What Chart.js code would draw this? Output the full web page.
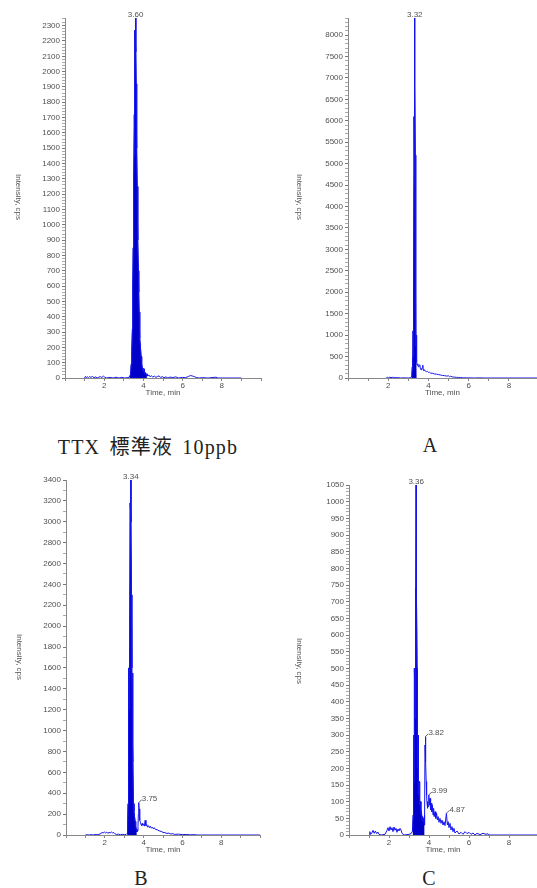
<!DOCTYPE html>
<html>
<head>
<meta charset="utf-8">
<script src="https://cdn.jsdelivr.net/npm/chart.js@4.4.1/dist/chart.umd.min.js"></script>
<style>
  body { margin: 0; background: #fff; width: 537px; height: 888px; position: relative; overflow: hidden; }
  canvas { position: absolute; }
  .ytitle { position: absolute; font: 8px 'Liberation Sans', Arial, sans-serif; color: #555; writing-mode: vertical-rl; white-space: nowrap; transform: translate(-50%, -50%); }
  .caption { position: absolute; font: 20px 'Liberation Serif', 'Noto Sans CJK JP', serif; color: #222; white-space: nowrap; transform: translate(-50%, -50%); }
  .wide { letter-spacing: 1.2px; word-spacing: 3px; }
</style>
</head>
<body>
<canvas id="ttxChart" width="268" height="400" style="left:0;top:0"></canvas>
<canvas id="aChart" width="267" height="400" style="left:270px;top:0"></canvas>
<canvas id="bChart" width="268" height="397" style="left:0;top:460px"></canvas>
<canvas id="cChart" width="267" height="397" style="left:270px;top:460px"></canvas>

<div class="ytitle" style="left:18px;top:197px">Intensity, cps</div>
<div class="ytitle" style="left:299px;top:197px">Intensity, cps</div>
<div class="ytitle" style="left:19px;top:657px">Intensity, cps</div>
<div class="ytitle" style="left:299px;top:661px">Intensity, cps</div>

<div class="caption wide" style="left:148px;top:445px">TTX 標準液 10ppb</div>
<div class="caption" style="left:430px;top:445px">A</div>
<div class="caption" style="left:141px;top:878px">B</div>
<div class="caption" style="left:429px;top:878px">C</div>

<script>
// TTX standard 10ppb
var ttxTime = [1.00, 1.04, 1.08, 1.14, 1.20, 1.26, 1.32, 1.40, 1.48, 1.56, 1.64, 1.72, 1.80, 1.88, 1.96, 2.02, 2.10, 2.30, 2.45, 2.60, 2.75, 2.90, 3.05, 3.20, 3.30,
  3.35, 3.38, 3.41, 3.44, 3.46, 3.48, 3.50, 3.52, 3.54, 3.55, 3.57, 3.59, 3.60, 3.61, 3.62, 3.63, 3.65, 3.66, 3.68, 3.70, 3.72, 3.74, 3.76, 3.78, 3.80, 3.82, 3.85, 3.88, 3.91, 3.94, 3.97,
  4.00, 4.03, 4.06, 4.10, 4.14, 4.18, 4.22, 4.28, 4.34, 4.40, 4.48, 4.56, 4.64, 4.72, 4.80, 4.88, 4.96, 5.05, 5.15, 5.25, 5.35, 5.50, 5.65, 5.80,
  6.00, 6.15, 6.30, 6.40, 6.50, 6.60, 6.70, 6.85, 7.00, 7.30, 7.70, 7.80, 9.00];
var ttxCps = [0, 10, 3, 8, 2, 9, 4, 10, 2, 7, 0, 5, 9, 3, 12, 6, 0, 4, 0, 5, 0, 4, 0, 3, 6,
  25, 90, 180, 320, 600, 850, 1100, 1300, 1720, 1450, 2270, 2200, 2350, 2300, 2130, 1900, 1920, 1500, 1250, 1100, 900, 700, 560, 430, 340, 260, 200, 140, 100, 65, 55,
  40, 60, 30, 35, 18, 28, 12, 20, 8, 15, 6, 12, 4, 10, 14, 3, 9, 2, 7, 0, 6, 3, 7, 0,
  4, 2, 10, 16, 13, 9, 3, 0, 2, 0, 5, 0, 0];

// sample A
var aTime = [1.90, 1.96, 2.02, 2.08, 2.14, 2.20, 2.28, 2.36, 2.44, 2.52, 2.60, 2.80, 3.00, 3.10, 3.15, 3.18,
  3.20, 3.21, 3.22, 3.23, 3.24, 3.25, 3.26, 3.27, 3.28, 3.29, 3.30, 3.31, 3.32, 3.33, 3.34, 3.35, 3.36, 3.37, 3.38, 3.39, 3.40, 3.42, 3.44, 3.47,
  3.50, 3.53, 3.57, 3.60, 3.63, 3.66, 3.69, 3.72, 3.74, 3.77, 3.80, 3.85, 3.90, 3.95, 4.00, 4.05, 4.10, 4.20, 4.30, 4.40, 4.50, 4.60, 4.70, 4.80, 4.90,
  5.00, 5.05, 5.10, 5.20, 5.30, 5.40, 5.50, 5.60, 5.75, 5.90, 6.10, 6.30, 6.50, 6.80, 9.40];
var aCps = [0, 15, 5, 20, 8, 18, 6, 14, 4, 10, 0, 4, 0, 5, 30, 90,
  250, 150, 450, 300, 1100, 500, 700, 2200, 1500, 6100, 4500, 8200, 8400, 6800, 5200, 4000, 2500, 1700, 750, 1000, 420, 380, 300, 330,
  260, 280, 310, 220, 200, 190, 240, 300, 200, 175, 185, 160, 150, 155, 130, 135, 115, 110, 95, 90, 80, 70, 60, 55, 45,
  50, 30, 40, 25, 20, 15, 12, 8, 5, 3, 2, 0, 3, 0, 0];

// sample B
var bTime = [1.00, 1.10, 1.20, 1.30, 1.40, 1.50, 1.60, 1.70, 1.80, 1.86, 1.92, 1.98, 2.04, 2.10, 2.16, 2.22, 2.28, 2.34, 2.40, 2.46, 2.52, 2.60, 2.70, 2.80, 2.90, 3.00, 3.10,
  3.15, 3.18, 3.20, 3.21, 3.22, 3.23, 3.24, 3.25, 3.27, 3.29, 3.31, 3.34, 3.35, 3.37, 3.38, 3.39, 3.40, 3.41, 3.42, 3.44, 3.45, 3.47,
  3.50, 3.53, 3.56, 3.59, 3.62, 3.65, 3.68, 3.71, 3.73, 3.75, 3.77, 3.79, 3.81, 3.84, 3.87, 3.90, 3.93, 3.96,
  4.00, 4.04, 4.08, 4.12, 4.16, 4.20, 4.25, 4.30, 4.35, 4.40, 4.45, 4.50, 4.55, 4.60, 4.70, 4.80, 4.90,
  5.00, 5.10, 5.20, 5.30, 5.40, 5.50, 5.60, 5.80, 6.00, 6.20, 6.40, 6.60, 6.80, 7.00, 10.00];
var bCps = [0, 3, 0, 4, 0, 5, 2, 6, 14, 25, 18, 30, 20, 28, 15, 26, 18, 30, 20, 24, 12, 5, 8, 2, 6, 3, 5,
  15, 80, 300, 540, 400, 900, 1600, 1200, 1700, 1500, 3180, 3400, 3000, 2300, 2250, 1800, 1600, 1300, 1550, 700, 850, 300,
  230, 180, 130, 90, 55, 30, 40, 80, 200, 310, 250, 180, 140, 120, 100, 90, 110, 95,
  100, 85, 140, 90, 100, 75, 90, 70, 85, 65, 75, 60, 70, 55, 50, 40, 35,
  25, 22, 15, 18, 10, 12, 6, 8, 4, 5, 2, 3, 0, 0, 0];

// sample C
var cTime = [1.00, 1.04, 1.08, 1.14, 1.20, 1.26, 1.32, 1.38, 1.44, 1.50, 1.60, 1.80, 1.90, 1.95, 2.00, 2.05, 2.10, 2.15, 2.20, 2.25, 2.30, 2.35, 2.40, 2.45, 2.50, 2.55, 2.60, 2.65, 2.75,
  3.00, 3.10, 3.18, 3.21, 3.22, 3.23, 3.25, 3.26, 3.28, 3.30, 3.32, 3.34, 3.36, 3.37, 3.38, 3.40, 3.41, 3.43, 3.45, 3.47,
  3.50, 3.53, 3.56, 3.59, 3.62, 3.65, 3.68, 3.71, 3.74, 3.76, 3.78, 3.80, 3.82, 3.84, 3.86, 3.88, 3.90, 3.92, 3.94, 3.96, 3.99,
  4.02, 4.05, 4.08, 4.11, 4.14, 4.17, 4.20, 4.23, 4.26, 4.30, 4.34, 4.38, 4.42, 4.46, 4.50, 4.55, 4.60, 4.65, 4.70, 4.75, 4.80, 4.87, 4.92, 4.96,
  5.00, 5.05, 5.10, 5.15, 5.20, 5.25, 5.30, 5.40, 5.50, 5.60, 5.70, 5.80, 5.90, 6.00, 6.10, 6.20, 6.30, 6.40, 6.55, 6.70, 6.85, 6.95, 7.00, 9.40];
var cCps = [0, 10, 2, 6, 14, 5, 12, 4, 9, 2, 0, 2, 14, 22, 12, 25, 15, 22, 10, 24, 14, 20, 8, 18, 12, 20, 15, 5, 0,
  2, 4, 12, 60, 180, 90, 300, 160, 500, 350, 740, 490, 1050, 980, 700, 500, 420, 200, 300, 120,
  160, 90, 100, 60, 70, 45, 55, 40, 50, 30, 60, 270, 295, 220, 160, 120, 95, 80, 100, 85, 120,
  90, 110, 75, 95, 70, 90, 60, 80, 55, 70, 50, 65, 45, 55, 38, 50, 35, 45, 30, 40, 28, 65, 30, 40,
  22, 35, 15, 25, 10, 20, 6, 12, 3, 8, 2, 10, 4, 8, 2, 6, 0, 5, 1, 5, 2, 4, 0, 0];

// labelled peaks: retention time text, and whether it sits on top (main) or to the side
var ttxPeaks = [{ t: 3.60, main: true }];
var aPeaks = [{ t: 3.32, main: true }];
var bPeaks = [{ t: 3.34, main: true }, { t: 3.75, main: false }];
var cPeaks = [{ t: 3.36, main: true }, { t: 3.82, main: false }, { t: 3.99, main: false }, { t: 4.87, main: false }];

Chart.defaults.font.family = "'Liberation Sans', Arial, sans-serif";
Chart.defaults.font.size = 8;
Chart.defaults.color = '#505050';

function peakPlugin(points, peaks) {
  return {
    id: 'peakText',
    afterDatasetsDraw: function (chart) {
      var ctx = chart.ctx;
      ctx.save();
      ctx.font = "8px 'Liberation Sans', Arial, sans-serif";
      ctx.fillStyle = '#505050';
      ctx.strokeStyle = '#606060';
      ctx.lineWidth = 1;
      peaks.forEach(function (pk) {
        var p = points.find(function (q) { return Math.abs(q.x - pk.t) < 0.001; });
        var px = chart.scales.x.getPixelForValue(pk.t);
        var py = chart.scales.y.getPixelForValue(p.y);
        var txt = pk.t.toFixed(2);
        if (pk.main) {
          ctx.textAlign = 'center';
          ctx.textBaseline = 'bottom';
          ctx.fillText(txt, px, py + 1);
        } else {
          ctx.beginPath();
          ctx.moveTo(px, py);
          ctx.lineTo(px + 3, py - 3);
          ctx.stroke();
          ctx.textAlign = 'left';
          ctx.textBaseline = 'middle';
          ctx.fillText(txt, px + 3, py - 4);
        }
      });
      ctx.restore();
    }
  };
}

function makeChart(id, time, cps, peaks, cfg) {
  var points = time.map(function (t, i) { return { x: t, y: cps[i] }; });
  var peakArea = points.filter(function (p) { return p.x >= cfg.fillFrom && p.x <= cfg.fillTo; });
  return new Chart(document.getElementById(id), {
    type: 'line',
    data: {
      datasets: [
        { data: points, borderColor: '#1414f0', borderWidth: 1, fill: false, pointRadius: 0, tension: 0 },
        { data: peakArea, borderColor: '#0000c8', borderWidth: 1, backgroundColor: '#0000c8', fill: 'origin', pointRadius: 0, tension: 0 }
      ]
    },
    options: {
      responsive: false,
      animation: false,
      layout: { padding: { top: cfg.top, right: cfg.right, left: 0, bottom: 0 } },
      plugins: { legend: { display: false }, tooltip: { enabled: false } },
      scales: {
        x: {
          type: 'linear', min: 0, max: cfg.xMax,
          afterFit: function (s) { s.height = cfg.xHeight; },
          border: { display: true, color: '#888' },
          grid: { drawOnChartArea: false, tickLength: 3, color: '#888' },
          ticks: {
            stepSize: 1, autoSkip: false, maxRotation: 0, padding: 0,
            callback: function (v) {
              if (Math.abs(v - Math.round(v)) > 0.001) return null;
              return (v % 2 === 0 && v > 0 && v < 10) ? String(v) : '';
            }
          },
          title: { display: true, text: 'Time, min', color: '#505050', padding: { top: 0, bottom: 2 } }
        },
        y: {
          min: 0, max: cfg.yMax,
          afterFit: function (s) { s.width = cfg.yWidth; },
          border: { display: true, color: '#888' },
          grid: {
            drawOnChartArea: false, tickLength: 3,
            color: function (c) { return Math.round(c.tick.value) % cfg.yMajor === 0 ? '#777' : '#aaa'; }
          },
          ticks: {
            stepSize: cfg.yMinor, autoSkip: false, maxTicksLimit: 500, padding: 2,
            callback: function (v) { return Math.round(v) % cfg.yMajor === 0 ? String(Math.round(v)) : ''; }
          }
        }
      }
    },
    plugins: [peakPlugin(points, peaks)]
  });
}

makeChart('ttxChart', ttxTime, ttxCps, ttxPeaks,
  { fillFrom: 3.30, fillTo: 4.20, top: 18, right: 7, xHeight: 22, yWidth: 65, xMax: 10, yMax: 2350, yMinor: 20, yMajor: 100 });
makeChart('aChart', aTime, aCps, aPeaks,
  { fillFrom: 3.15, fillTo: 3.42, top: 18, right: 0, xHeight: 22, yWidth: 78, xMax: 9.4, yMax: 8400, yMinor: 100, yMajor: 500 });
makeChart('bChart', bTime, bCps, bPeaks,
  { fillFrom: 3.15, fillTo: 3.66, top: 20, right: 8, xHeight: 22, yWidth: 66, xMax: 10, yMax: 3400, yMinor: 100, yMajor: 200 });
makeChart('cChart', cTime, cCps, cPeaks,
  { fillFrom: 3.18, fillTo: 3.78, top: 25, right: 0, xHeight: 22, yWidth: 79, xMax: 9.4, yMax: 1050, yMinor: 10, yMajor: 50 });
</script>
</body>
</html>
